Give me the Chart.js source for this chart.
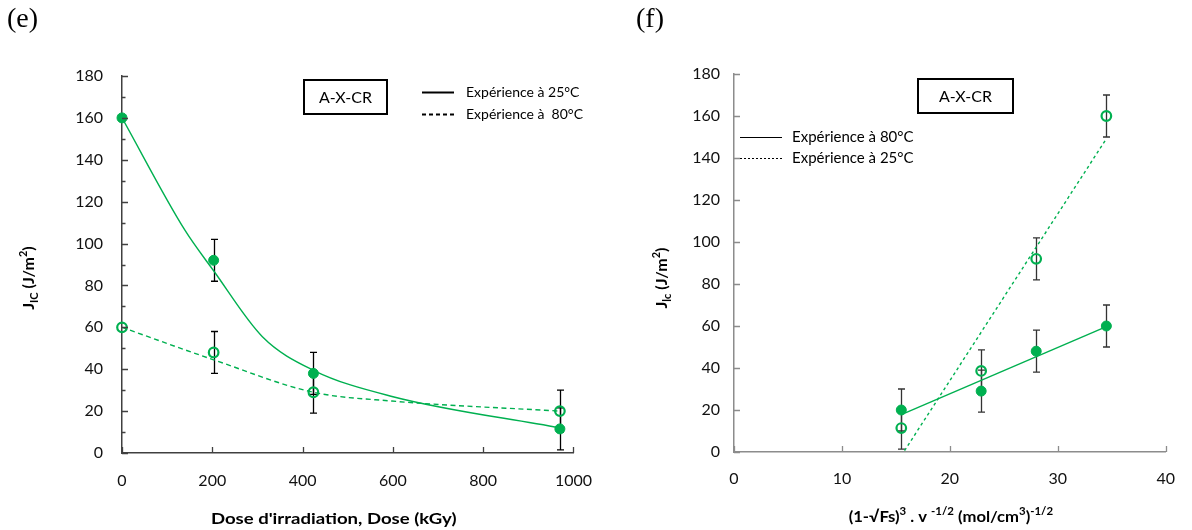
<!DOCTYPE html>
<html>
<head>
<meta charset="utf-8">
<script src="https://cdn.jsdelivr.net/npm/chart.js@4.4.0/dist/chart.umd.min.js"></script>
<style>
  html, body { margin: 0; padding: 0; background: #fff; }
  #wrap { position: relative; width: 1192px; height: 530px; }
  canvas { position: absolute; top: 0; }
</style>
</head>
<body>
<div id="wrap">
  <canvas id="chartE" width="610" height="530" style="left:0"></canvas>
  <canvas id="chartF" width="582" height="530" style="left:610px"></canvas>
</div>
<script>
const GREEN = '#00B050';
const FONT = 'Lato, "Open Sans", sans-serif';

// ---- (e) : J_IC vs irradiation dose ----
const doseE = [0, 203, 424, 970];
const jic25E = [160, 92, 38, 11.5];   // filled markers
const jic80E = [60, 48, 29, 20];      // open markers
const err25E = [0, 10, 10, 10];
const err80E = [0, 10, 10, 10];
// smoothed guide curves
const curveDose25 = [0, 139, 203, 311, 424, 598, 970];
const curve25 = [160, 106.5, 87, 55.5, 39.5, 27, 12];
const curveDose80 = [0, 203, 424, 598, 970];
const curve80 = [60, 44.5, 29, 24.8, 20];
const ticksDoseE = [0, 200, 400, 600, 800, 1000];

// ---- (f) : J_Ic vs (1-vFs)^3 . v^-1/2 ----
const xF = [15.5, 22.9, 28, 34.5];
const jFilledF = [20, 29, 48, 60];    // solid trend, "80°C"
const jOpenF = [11.4, 38.6, 92, 160]; // dotted trend, "25°C"
const errFilledF = [10, 10, 10, 10];
const errOpenF = [10, 10, 10, 10];
const ticksXF = [0, 10, 20, 30, 40];

const ticksJ = [0, 20, 40, 60, 80, 100, 120, 140, 160, 180];

const pts = (xs, ys) => xs.map((x, i) => ({x: x, y: ys[i]}));

function linFit(xs, ys) {
  const n = xs.length;
  const mx = xs.reduce((a, b) => a + b, 0) / n, my = ys.reduce((a, b) => a + b, 0) / n;
  let sxy = 0, sxx = 0;
  xs.forEach((x, i) => { sxy += (x - mx) * (ys[i] - my); sxx += (x - mx) * (x - mx); });
  const m = sxy / sxx, b = my - m * mx;
  const x0 = Math.min(...xs), x1 = Math.max(...xs);
  return [{x: x0, y: m * x0 + b}, {x: x1, y: m * x1 + b}];
}

// centred text with sub (1) / superscript (2) parts, optional horizontal stretch
function rich(ctx, parts, x, y, size, stretch) {
  const f = m => 'bold ' + (m ? Math.round(size * 0.68) : size) + 'px ' + FONT;
  let w = 0;
  parts.forEach(p => { ctx.font = f(p[1]); w += ctx.measureText(p[0]).width; });
  ctx.save();
  ctx.translate(x, y);
  ctx.scale(stretch || 1, 1);
  let cx = -w / 2;
  ctx.textAlign = 'left';
  ctx.textBaseline = 'alphabetic';
  parts.forEach(p => {
    ctx.font = f(p[1]);
    const dy = p[1] === 1 ? size * 0.28 : p[1] === 2 ? -size * 0.42 : 0;
    ctx.fillText(p[0], cx, dy);
    cx += ctx.measureText(p[0]).width;
  });
  ctx.restore();
}

const annot = {
  id: 'annot',
  beforeDatasetsDraw(chart, args, o) {
    const ctx = chart.ctx, sx = chart.scales.x, sy = chart.scales.y;
    ctx.save();
    ctx.strokeStyle = o.barColor;
    ctx.lineWidth = 1.3;
    o.bars.forEach(b => b.y.forEach((v, i) => {
      if (!b.err[i]) return;
      const px = Math.round(sx.getPixelForValue(b.x[i])) + 0.5;
      const t = sy.getPixelForValue(v + b.err[i]), d = sy.getPixelForValue(v - b.err[i]);
      ctx.beginPath();
      ctx.moveTo(px, t); ctx.lineTo(px, d);
      ctx.moveTo(px - 3.5, t); ctx.lineTo(px + 3.5, t);
      ctx.moveTo(px - 3.5, d); ctx.lineTo(px + 3.5, d);
      ctx.stroke();
    }));
    ctx.restore();
  },
  afterDraw(chart, args, o) {
    const ctx = chart.ctx, sx = chart.scales.x, sy = chart.scales.y, a = chart.chartArea;
    ctx.save();
    // inside tick marks
    ctx.strokeStyle = o.axisColor;
    ctx.lineWidth = 1.3;
    ctx.beginPath();
    sy.ticks.forEach((t, i) => {
      const py = Math.round(sy.getPixelForValue(t.value)) + 0.5;
      ctx.moveTo(a.left, py); ctx.lineTo(a.left + 6, py);
      if (o.minorY && i > 0) {
        const pm = Math.round(sy.getPixelForValue((t.value + sy.ticks[i - 1].value) / 2)) + 0.5;
        ctx.moveTo(a.left, pm); ctx.lineTo(a.left + 3.5, pm);
      }
    });
    sx.ticks.forEach(t => {
      const px = Math.round(sx.getPixelForValue(t.value)) + 0.5;
      ctx.moveTo(px, a.bottom); ctx.lineTo(px, a.bottom - 6);
    });
    ctx.stroke();

    ctx.fillStyle = '#000';
    // panel letter
    ctx.font = '28px "Liberation Serif", "Times New Roman", serif';
    ctx.textAlign = 'left'; ctx.textBaseline = 'alphabetic';
    ctx.fillText(o.panel[0], o.panel[1], o.panel[2]);

    // A-X-CR box
    const bx = o.box;
    ctx.lineWidth = 2; ctx.strokeStyle = '#000';
    ctx.strokeRect(bx[0], bx[1], bx[2], bx[3]);
    ctx.font = '16px ' + FONT;
    ctx.textAlign = 'center'; ctx.textBaseline = 'middle';
    ctx.fillText('A-X-CR', bx[0] + bx[2] / 2, bx[1] + bx[3] / 2 + 1);

    // legend
    o.legend.forEach(l => {
      ctx.lineWidth = l.w;
      ctx.setLineDash(l.dash);
      ctx.beginPath();
      ctx.moveTo(l.x0, l.y + 0.5); ctx.lineTo(l.x1, l.y + 0.5);
      ctx.stroke();
      ctx.setLineDash([]);
      ctx.font = l.size + 'px ' + FONT;
      ctx.textAlign = 'left'; ctx.textBaseline = 'middle';
      ctx.fillText(l.text, l.tx, l.y);
    });

    // axis titles
    rich(ctx, o.xTitle, (a.left + a.right) / 2 + o.xShift, o.xTitleY, 16, o.xStretch);
    ctx.save();
    ctx.translate(o.yTitleX, o.yTitleY);
    ctx.rotate(-Math.PI / 2);
    rich(ctx, o.yTitle, 0, 0, 16, 1);
    ctx.restore();
    ctx.restore();
  }
};

function scales(xTicks, axisColor, yWidth, xHeight, yPad, xPad) {
  const tickFont = {family: FONT, size: 16};
  return {
    x: {
      type: 'linear', min: xTicks[0], max: xTicks[xTicks.length - 1],
      afterBuildTicks: s => { s.ticks = xTicks.map(v => ({value: v})); },
      afterFit: s => { s.height = xHeight; },
      grid: {display: false, drawTicks: false},
      border: {display: true, color: axisColor, width: 1.5},
      ticks: {color: '#111', font: tickFont, padding: xPad, maxRotation: 0, callback: v => String(v)}
    },
    y: {
      type: 'linear', min: 0, max: 180,
      afterBuildTicks: s => { s.ticks = ticksJ.map(v => ({value: v})); },
      afterFit: s => { s.width = yWidth; },
      grid: {display: false, drawTicks: false},
      border: {display: true, color: axisColor, width: 1.5},
      ticks: {color: '#111', font: tickFont, padding: yPad, callback: v => String(v)}
    }
  };
}

const filled = (data, order) => ({
  type: 'scatter', data: data, showLine: false, clip: false, order: order,
  pointRadius: 5, pointHoverRadius: 5,
  pointBackgroundColor: GREEN, pointBorderColor: GREEN, pointBorderWidth: 1
});
const hollow = (data, order) => ({
  type: 'scatter', data: data, showLine: false, clip: false, order: order,
  pointRadius: 4.8, pointHoverRadius: 4.8,
  pointBackgroundColor: 'rgba(0,0,0,0)', pointBorderColor: GREEN, pointBorderWidth: 2.2
});

// ---------- chart (e) ----------
new Chart(document.getElementById('chartE'), {
  type: 'scatter',
  data: {
    datasets: [
      filled(pts(doseE, jic25E), 0),
      hollow(pts(doseE, jic80E), 1),
      {type: 'line', data: pts(curveDose25, curve25), order: 2, borderColor: GREEN, borderWidth: 1.4,
       pointRadius: 0, cubicInterpolationMode: 'monotone', fill: false},
      {type: 'line', data: pts(curveDose80, curve80), order: 3, borderColor: GREEN, borderWidth: 1.4,
       borderDash: [5, 3.5], pointRadius: 0, cubicInterpolationMode: 'monotone', fill: false}
    ]
  },
  options: {
    responsive: false, animation: false, events: [],
    layout: {padding: {left: 0, right: 23, top: 76, bottom: 0}},
    scales: scales(ticksDoseE, '#404040', 122, 77, 19, 18),
    plugins: {
      legend: {display: false}, tooltip: {enabled: false},
      annot: {
        barColor: '#000', axisColor: '#404040', minorY: true,
        bars: [{x: doseE, y: jic25E, err: err25E}, {x: doseE, y: jic80E, err: err80E}],
        panel: ['(e)', 7, 27],
        box: [304, 80, 83, 34],
        legend: [
          {x0: 422, x1: 454, y: 92, w: 2, dash: [], text: 'Expérience à 25°C', tx: 466, size: 14},
          {x0: 422, x1: 454, y: 114, w: 2, dash: [4, 3], text: 'Expérience à  80°C', tx: 466, size: 14}
        ],
        xTitle: [['Dose d\'irradiation, Dose (kGy)', 0]], xShift: -14, xTitleY: 524, xStretch: 1.16,
        yTitle: [['J', 0], ['IC', 1], [' (J/m', 0], ['2', 2], [')', 0]], yTitleX: 34, yTitleY: 278
      }
    }
  },
  plugins: [annot]
});

// ---------- chart (f) ----------
new Chart(document.getElementById('chartF'), {
  type: 'scatter',
  data: {
    datasets: [
      filled(pts(xF, jFilledF), 0),
      hollow(pts(xF, jOpenF), 1),
      {type: 'line', data: linFit(xF, jFilledF), order: 2, borderColor: GREEN, borderWidth: 1.4,
       pointRadius: 0, fill: false},
      {type: 'line', data: linFit(xF, jOpenF), order: 3, borderColor: GREEN, borderWidth: 1.4,
       borderDash: [3, 3], pointRadius: 0, fill: false}
    ]
  },
  options: {
    responsive: false, animation: false, events: [],
    layout: {padding: {left: 0, right: 18, top: 74, bottom: 0}},
    scales: scales(ticksXF, '#8c8c8c', 124, 78, 14, 17),
    plugins: {
      legend: {display: false}, tooltip: {enabled: false},
      annot: {
        barColor: '#333', axisColor: '#8c8c8c', minorY: false,
        bars: [{x: xF, y: jFilledF, err: errFilledF}, {x: xF, y: jOpenF, err: errOpenF}],
        panel: ['(f)', 26, 27],
        box: [308, 79, 95, 34],
        legend: [
          {x0: 130, x1: 172, y: 137, w: 1, dash: [], text: 'Expérience à 80°C', tx: 182, size: 15},
          {x0: 130, x1: 172, y: 158, w: 1, dash: [2, 2], text: 'Expérience à 25°C', tx: 182, size: 15}
        ],
        xTitle: [['(1-√Fs)', 0], ['3', 2], [' . v ', 0], ['-1/2', 2], [' (mol/cm', 0], ['3', 2], [')', 0], ['-1/2', 2]],
        xShift: 1, xTitleY: 522, xStretch: 1.04,
        yTitle: [['J', 0], ['lc', 1], [' (J/m', 0], ['2', 2], [')', 0]], yTitleX: 57, yTitleY: 278
      }
    }
  },
  plugins: [annot]
});
</script>
</body>
</html>
